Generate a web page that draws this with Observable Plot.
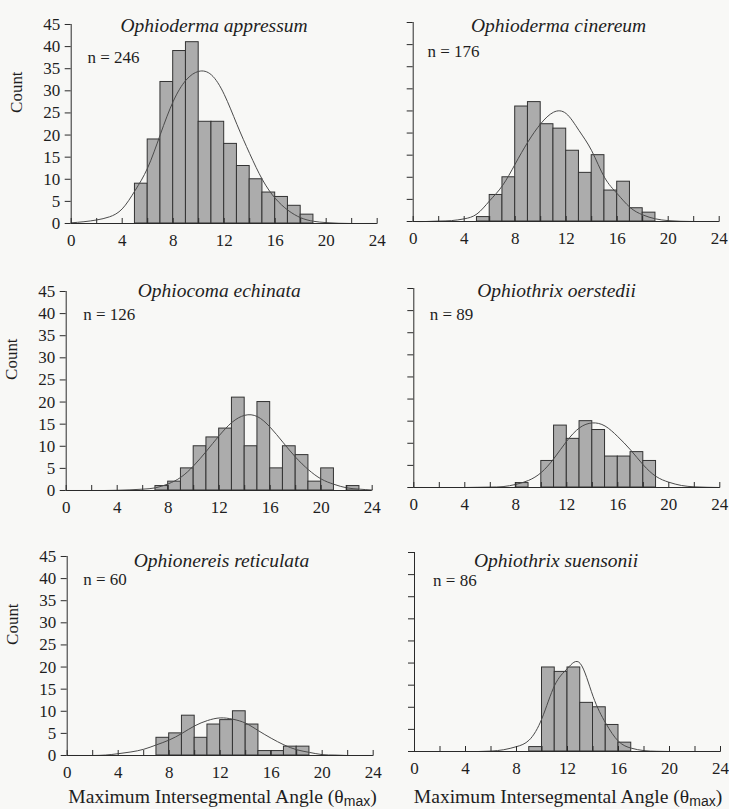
<!DOCTYPE html>
<html>
<head>
<meta charset="utf-8">
<script src="https://cdn.jsdelivr.net/npm/d3@7"></script>
<script src="https://cdn.jsdelivr.net/npm/@observablehq/plot@0.6"></script>
<style>
  html, body { margin: 0; padding: 0; background: #f8f8f6; }
  #fig { position: relative; width: 729px; height: 809px; background: #f8f8f6; overflow: hidden; }
  #fig svg { position: absolute; }
  #fig svg text { font-family: "Liberation Serif", "Times New Roman", serif; }
  .xlab { position: absolute; font-family: "Liberation Serif", "Times New Roman", serif; font-size: 19.6px; line-height: 22px; color: #1e1e1e; white-space: nowrap; transform: translate(-50%, -50%); }
  .xlab sub { font-family: "Liberation Sans", Arial, sans-serif; font-size: 14px; line-height: 0; vertical-align: -3px; }
</style>
</head>
<body>
<div id="fig"></div>
<script>
// ---------- data ----------
const species = ["Ophioderma appressum", "Ophioderma cinereum", "Ophiocoma echinata",
                 "Ophiothrix oerstedii", "Ophionereis reticulata", "Ophiothrix suensonii"];
const sampleSizes = [246, 176, 126, 89, 60, 86];

// left edges of 1-degree bins, and counts
const appressumBins   = [5,6,7,8,9,10,11,12,13,14,15,16,17,18];
const appressumCounts = [9,19,32,39,41,23,23,18,13,10,7,6,4,2];
const cinereumBins    = [5,6,7,8,9,10,11,12,13,14,15,16,17,18];
const cinereumCounts  = [1,6,10,26,27,22,21,16,11,15,7,9,3,2];
const echinataBins    = [7,8,9,10,11,12,13,14,15,16,17,18,19,20,22];
const echinataCounts  = [1,2,5,10,12,14,21,10,20,5,10,8,2,5,1];
const oerstediiBins   = [8,10,11,12,13,14,15,16,17,18];
const oerstediiCounts = [1,6,14,11,15,13,7,7,8,6];
const reticulataBins  = [7,8,9,10,11,12,13,14,15,16,17,18];
const reticulataCounts= [4,5,9,4,7,8,10,7,1,1,2,2];
const suensoniiBins   = [9,10,11,12,13,14,15,16];
const suensoniiCounts = [1,19,18,19,11,10,6,2];

// fitted curves, read at integer angles 0..24
const curveX = [0,1,2,3,4,5,6,7,8,9,10,11,12,13,14,15,16,17,18,19,20,21,22,23,24];
const appressumCurve  = [0.15,0.4,0.8,1.5,3.3,7.4,12.6,20.2,27.6,32.4,34.4,33.6,29.2,22.4,15.8,9.9,5.7,3.0,1.3,0.5,0.2,0.05,0,0,0];
const cinereumCurve   = [0,0,0.1,0.2,0.6,1.7,4.7,8.1,13,18,22.1,24.7,24.4,20.6,16,10,6.3,3.2,1.5,0.6,0.2,0.05,0,0,0];
const echinataCurve   = [0,0,0,0,0.05,0.15,0.3,0.6,1.5,3,5.6,8.9,12.4,15.4,17,16.7,14.3,10.9,7.5,4.7,2.6,1.4,0.6,0.3,0.1];
const oerstediiCurve  = [0,0,0,0,0,0.05,0.1,0.2,0.7,1.6,3.4,6.6,10.5,13.5,14.6,13.9,11.5,8.5,5.1,2.5,1.2,0.45,0.15,0.05,0];
const reticulataCurve = [0,0,0,0.1,0.4,0.8,1.4,2.4,3.5,5.0,6.7,7.9,8.5,8.2,7.3,5.6,3.9,2.4,1.3,0.7,0.2,0.1,0,0,0];
const suensoniiCurve  = [0,0,0,0,0,0,0.1,0.4,1.1,2.6,7.5,15,18.8,19.9,12.5,6.4,2.3,0.75,0.2,0.05,0,0,0,0,0];

const xTickLabels = [0,4,8,12,16,20,24];
const xMinorTicks = [0,2,4,6,8,10,12,14,16,18,20,22,24];
const yTicks = [0,5,10,15,20,25,30,35,40,45];
const yLabel = "Count";
const xLabelMain = "Maximum Intersegmental Angle (θ";
const xLabelSub = "max";

// ---------- layout (positions only) ----------
const layout = [
  {left: true,  axisX: 70.7,  y45: 24,  titleY: 18,  titleX: 11.2, nX: 1.28, nY: 37.5},
  {left: false, axisX: 412.7, y45: 22,  titleY: 18,  titleX: 11.4, nX: 1.12, nY: 38.4},
  {left: true,  axisX: 65.7,  y45: 291, titleY: 283, titleX: 12.0, nX: 1.33, nY: 39.7},
  {left: false, axisX: 413.3, y45: 288, titleY: 283, titleX: 11.2, nX: 1.25, nY: 39.2},
  {left: true,  axisX: 66.7,  y45: 556, titleY: 553, titleX: 12.1, nX: 1.25, nY: 39.9},
  {left: false, axisX: 414,   y45: 552, titleY: 553, titleX: 11.1, nX: 1.46, nY: 38.7}
];
const binsList = [appressumBins, cinereumBins, echinataBins, oerstediiBins, reticulataBins, suensoniiBins];
const countsList = [appressumCounts, cinereumCounts, echinataCounts, oerstediiCounts, reticulataCounts, suensoniiCounts];
const curvesList = [appressumCurve, cinereumCurve, echinataCurve, oerstediiCurve, reticulataCurve, suensoniiCurve];

const PLOT_W = 306, PLOT_H = 199, MT = 30, MB = 36;
const serif = "Liberation Serif";
const fig = document.getElementById("fig");

species.forEach((name, i) => {
  const L = layout[i];
  const bars = binsList[i].map((b, j) => ({x1: b, x2: b + 1, count: countsList[i][j]}));
  const curve = curveX.map((x, j) => ({x, y: curvesList[i][j]}));
  const svgLeft = L.left ? 0 : 370;
  const marginLeft = L.axisX - svgLeft;
  const width = L.left ? marginLeft + PLOT_W + 14 : 359;
  const marginRight = width - marginLeft - PLOT_W;

  const plot = Plot.plot({
    width, height: MT + PLOT_H + MB,
    marginLeft, marginRight, marginTop: MT, marginBottom: MB,
    x: {domain: [0, 24]},
    y: {domain: [0, 45]},
    style: {background: "transparent", fontFamily: serif, fontSize: "17px", color: "#1e1e1e", overflow: "visible"},
    marks: [
      Plot.rectY(bars, {x1: "x1", x2: "x2", y: "count", fill: "#acacac", stroke: "#333", strokeWidth: 1}),
      Plot.line(curve, {x: "x", y: "y", curve: "natural", stroke: "#4a4a4a", strokeWidth: 1}),
      Plot.ruleY([0], {stroke: "#2a2a2a", strokeWidth: 1.2}),
      Plot.ruleX([0], {stroke: "#2a2a2a", strokeWidth: 1}),
      Plot.axisY({ticks: yTicks, tickSize: 6, tickPadding: 5, stroke: "#2a2a2a",
                  fontFamily: serif, fontSize: 17, fill: "#1e1e1e",
                  tickFormat: L.left ? (d => d) : (() => ""), label: null}),
      Plot.axisX({ticks: xMinorTicks, tickSize: 5, dy: -5, tickFormat: () => "", label: null, stroke: "#2a2a2a"}),
      Plot.axisX({ticks: xTickLabels, tickSize: 0, tickPadding: 10, label: null,
                  fontFamily: serif, fontSize: 17, fill: "#1e1e1e"}),
      L.left ? Plot.text([yLabel], {frameAnchor: "left", y: 25, rotate: -90, dx: -55, fontSize: 17, fontFamily: serif}) : null,
      Plot.text([name], {x: L.titleX, frameAnchor: "top", dy: L.titleY - L.y45, fontStyle: "italic", fontSize: 19.5, fontFamily: serif}),
      Plot.text([`n = ${sampleSizes[i]}`], {x: L.nX, y: L.nY, textAnchor: "start", fontSize: 17, fontFamily: serif})
    ]
  });
  plot.style.left = svgLeft + "px";
  plot.style.top = (L.y45 - MT) + "px";
  fig.appendChild(plot);
});

// x-axis titles under the bottom row
[{cx: 222.5, cy: 797}, {cx: 568, cy: 797}].forEach(p => {
  const d = document.createElement("div");
  d.className = "xlab";
  d.style.left = p.cx + "px";
  d.style.top = p.cy + "px";
  d.innerHTML = `${xLabelMain}<sub>${xLabelSub}</sub>)`;
  fig.appendChild(d);
});
</script>
</body>
</html>
